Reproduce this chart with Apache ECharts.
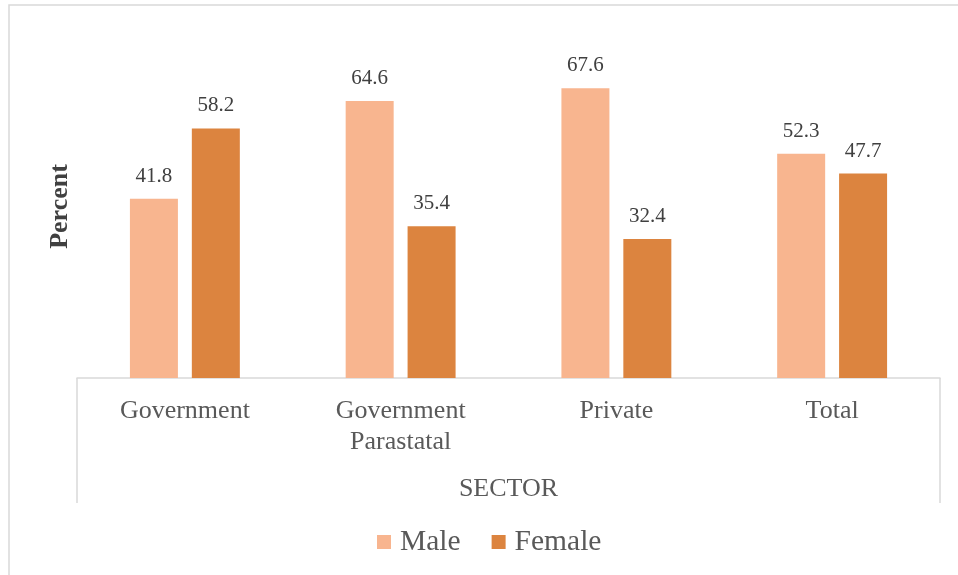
<!DOCTYPE html>
<html>
<head>
<meta charset="utf-8">
<script src="https://cdn.jsdelivr.net/npm/echarts@6/dist/echarts.min.js"></script>
<style>
  html, body { margin: 0; padding: 0; background: #fff; }
  #chart { width: 958px; height: 575px; }
</style>
</head>
<body>
<div id="chart"></div>
<script>
// data
var sectors = ['Government', 'Government\nParastatal', 'Private', 'Total'];
var male = [41.8, 64.6, 67.6, 52.3];
var female = [58.2, 35.4, 32.4, 47.7];

var font = '"Liberation Serif", "Times New Roman", serif';
var gridLeft = 77, gridRight = 18, gridTop = 35, gridBottom = 197;
var boxBottom = 503;

var myChart = echarts.init(document.getElementById('chart'));
var option = {
  backgroundColor: '#fff',
  textStyle: { fontFamily: font },
  grid: {
    left: gridLeft,
    right: gridRight,
    top: gridTop,
    bottom: gridBottom,
    containLabel: false
  },
  legend: {
    data: ['Male', 'Female'],
    left: 372,
    top: 522,
    icon: 'rect',
    itemWidth: 14,
    itemHeight: 14,
    itemGap: 31,
    textStyle: { fontFamily: font, fontSize: 29.5, color: '#595959', padding: [0, 0, 0, 4] }
  },
  xAxis: {
    type: 'category',
    data: sectors,
    name: 'SECTOR',
    nameLocation: 'middle',
    nameGap: 98,
    nameTextStyle: { fontFamily: font, fontSize: 26, color: '#595959' },
    axisLine: { show: true, lineStyle: { color: '#d9d9d9', width: 1.5 } },
    axisTick: { show: false },
    axisLabel: {
      fontFamily: font,
      fontSize: 26,
      lineHeight: 31,
      color: '#595959',
      margin: 18
    }
  },
  yAxis: {
    type: 'value',
    min: 0,
    max: 80,
    name: 'Percent',
    nameLocation: 'middle',
    nameRotate: 90,
    nameGap: 4,
    nameTextStyle: { fontFamily: font, fontSize: 26, fontWeight: 'bold', color: '#404040' },
    axisLine: { show: false },
    axisTick: { show: false },
    axisLabel: { show: false },
    splitLine: { show: false }
  },
  series: [
    {
      name: 'Male',
      type: 'bar',
      data: male,
      barWidth: 48,
      barGap: '29%',
      itemStyle: { color: '#F8B58F' },
      label: {
        show: true,
        position: 'top',
        distance: 12,
        fontFamily: font,
        fontSize: 21,
        color: '#404040'
      }
    },
    {
      name: 'Female',
      type: 'bar',
      data: female,
      barWidth: 48,
      itemStyle: { color: '#DC843F' },
      label: {
        show: true,
        position: 'top',
        distance: 12,
        fontFamily: font,
        fontSize: 21,
        color: '#404040'
      }
    }
  ],
  graphic: [
    // outer chart frame (runs off the right and bottom edges)
    {
      type: 'rect',
      shape: { x: 9, y: 5, width: 1000, height: 600 },
      style: { fill: null, stroke: '#d9d9d9', lineWidth: 1.5 },
      silent: true
    },
    // sides of the category box under the axis
    {
      type: 'line',
      shape: { x1: gridLeft, y1: 575 - gridBottom, x2: gridLeft, y2: boxBottom },
      style: { stroke: '#d9d9d9', lineWidth: 1.5 },
      silent: true
    },
    {
      type: 'line',
      shape: { x1: 958 - gridRight, y1: 575 - gridBottom, x2: 958 - gridRight, y2: boxBottom },
      style: { stroke: '#d9d9d9', lineWidth: 1.5 },
      silent: true
    }
  ]
};
option && myChart.setOption(option);
</script>
</body>
</html>
